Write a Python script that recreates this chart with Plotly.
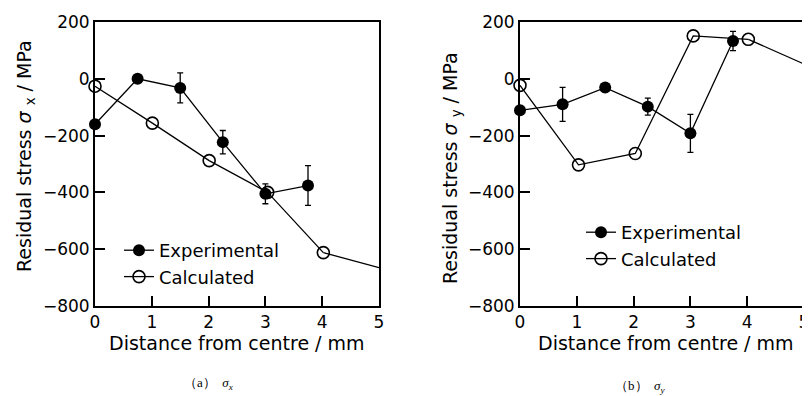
import plotly.graph_objects as go

# ---- data ----
x_ticks = [0, 1, 2, 3, 4, 5]
y_ticks = [-800, -600, -400, -200, 0, 200]

# (a) sigma_x
exp_x_a = [0, 0.75, 1.5, 2.25, 3.0, 3.75]
exp_y_a = [-160, 0, -32, -223, -405, -376]
exp_err_a = [0, 0, 53, 41, 35, 70]
calc_x_a = [0, 1.01, 2.01, 3.04, 4.02, 5.0]
calc_y_a = [-26, -156, -288, -400, -612, -665]

# (b) sigma_y
exp_x_b = [0, 0.75, 1.5, 2.25, 3.0, 3.75]
exp_y_b = [-111, -90, -31, -98, -192, 133]
exp_err_b = [0, 60, 0, 30, 67, 34]
calc_x_b = [0, 1.03, 2.03, 3.05, 4.02, 5.0]
calc_y_b = [-23, -303, -263, 151, 139, 52]

FONT = "DejaVu Sans"
OFF = 8  # page body margin
W, H = 810 - OFF, 396 - OFF

fig = go.Figure()

def add_panel(xa, ya, leg, ex, ey, ee, cx, cy):
    fig.add_trace(go.Scatter(
        x=ex, y=ey, mode="lines+markers", name="Experimental",
        xaxis=xa, yaxis=ya, legend=leg,
        line=dict(color="black", width=1.3),
        marker=dict(symbol="circle", size=12, color="black"),
        error_y=dict(type="data", array=ee, visible=True, color="black", thickness=1.3, width=3),
        cliponaxis=False,
    ))
    fig.add_trace(go.Scatter(
        x=cx[:-1], y=cy[:-1], mode="lines+markers", name="Calculated",
        xaxis=xa, yaxis=ya, legend=leg,
        line=dict(color="black", width=1.3),
        marker=dict(symbol="circle-open", size=12, color="black", line=dict(width=1.6)),
        cliponaxis=False,
    ))
    fig.add_trace(go.Scatter(
        x=cx[-2:], y=cy[-2:], mode="lines", showlegend=False,
        xaxis=xa, yaxis=ya,
        line=dict(color="black", width=1.3),
    ))

add_panel("x", "y", "legend", exp_x_a, exp_y_a, exp_err_a, calc_x_a, calc_y_a)
add_panel("x2", "y2", "legend2", exp_x_b, exp_y_b, exp_err_b, calc_x_b, calc_y_b)

def px_x(p):
    return (p - OFF) / W

def px_y(p):
    return 1 - (p - OFF) / H

axis_common = dict(
    showline=True, linecolor="black", linewidth=2, mirror=True,
    ticks="inside", ticklen=10, tickwidth=1.5, tickcolor="black",
    showgrid=False, zeroline=False, automargin=False,
    tickfont=dict(family=FONT, size=17, color="black"),
)

xdom_a = [px_x(95), px_x(379)]
xdom_b = [px_x(520), px_x(804)]
ydom = [px_y(306), px_y(22)]

fig.update_layout(
    template="none",
    width=W, height=H,
    margin=dict(l=0, r=0, t=0, b=0, autoexpand=False),
    paper_bgcolor="white", plot_bgcolor="white",
    showlegend=True,
    xaxis=dict(domain=xdom_a, range=[0, 5], tickvals=x_ticks, anchor="y", **axis_common),
    yaxis=dict(domain=ydom, range=[-800, 200], tickvals=y_ticks, anchor="x", **axis_common),
    xaxis2=dict(domain=xdom_b, range=[0, 5], tickvals=x_ticks, anchor="y2", **axis_common),
    yaxis2=dict(domain=ydom, range=[-800, 200], tickvals=y_ticks, anchor="x2", **axis_common),
    legend=dict(x=px_x(119), y=px_y(232), xanchor="left", yanchor="top",
                bgcolor="rgba(0,0,0,0)", font=dict(family=FONT, size=18, color="black"),
                itemwidth=30, tracegroupgap=0),
    legend2=dict(x=px_x(581), y=px_y(214), xanchor="left", yanchor="top",
                 bgcolor="rgba(0,0,0,0)", font=dict(family=FONT, size=18, color="black"),
                 itemwidth=30, tracegroupgap=0),
)

ann = []
# x titles
for cx in [237, 666]:
    ann.append(dict(x=px_x(cx), y=px_y(343), xref="paper", yref="paper",
                    text="Distance from centre / mm", showarrow=False,
                    font=dict(family=FONT, size=19, color="black"),
                    xanchor="center", yanchor="middle"))
# y titles
ann.append(dict(x=px_x(25), y=px_y(156), xref="paper", yref="paper",
                text="Residual stress <i>σ</i> <sub>x</sub> / MPa", showarrow=False, textangle=-90,
                font=dict(family=FONT, size=19, color="black"),
                xanchor="center", yanchor="middle"))
ann.append(dict(x=px_x(451), y=px_y(168), xref="paper", yref="paper",
                text="Residual stress <i>σ</i> <sub>y</sub> / MPa", showarrow=False, textangle=-90,
                font=dict(family=FONT, size=19, color="black"),
                xanchor="center", yanchor="middle"))
# captions
ann.append(dict(x=px_x(208), y=px_y(383), xref="paper", yref="paper",
                text="（a）  <i>σ<sub>x</sub></i>", showarrow=False,
                font=dict(family="Liberation Serif", size=13, color="black"),
                xanchor="center", yanchor="middle"))
ann.append(dict(x=px_x(640), y=px_y(386), xref="paper", yref="paper",
                text="（b）  <i>σ<sub>y</sub></i>", showarrow=False,
                font=dict(family="Liberation Serif", size=13, color="black"),
                xanchor="center", yanchor="middle"))
fig.update_layout(annotations=ann)

fig.write_html("out.html")
